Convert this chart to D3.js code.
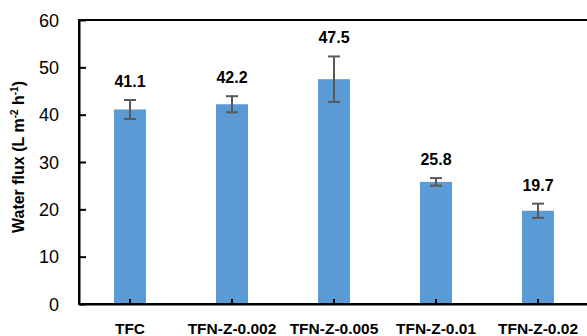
<!DOCTYPE html>
<html>
<head>
<meta charset="utf-8">
<script src="https://cdn.jsdelivr.net/npm/d3@7"></script>
</head>
<body style="margin:0;background:#fff">
<div id="chart"></div>
<script>
const categories = ["TFC", "TFN-Z-0.002", "TFN-Z-0.005", "TFN-Z-0.01", "TFN-Z-0.02"];
const fluxValues = [41.1, 42.2, 47.5, 25.8, 19.7];
const fluxErrors = [2.0, 1.7, 4.8, 0.8, 1.5];
const yTicks = [0, 10, 20, 30, 40, 50, 60];
const yTitleMain = "Water flux (L m";

const W = 587, H = 336;
const FONT = "'Liberation Sans', Arial, sans-serif";
const svg = d3.select("#chart").append("svg").attr("width", W).attr("height", H);

const x = d3.scaleBand().domain(categories).range([79, 589]).paddingInner(0.686).paddingOuter(0.343);
const y = d3.scaleLinear().domain([0, 60]).range([304, 20]);

const data = categories.map((c, i) => ({ c, v: fluxValues[i], e: fluxErrors[i] }));

// plot-area frame (left, top, bottom; right edge falls outside the canvas)
svg.append("rect")
  .attr("x", x.range()[0]).attr("y", y(60))
  .attr("width", x.range()[1] - x.range()[0] + 2).attr("height", y(0) - y(60))
  .attr("fill", "none").attr("stroke", "#000").attr("stroke-width", 2)
  .attr("shape-rendering", "crispEdges");

// bars
svg.append("g").selectAll("rect").data(data).join("rect")
  .attr("x", d => x(d.c)).attr("width", x.bandwidth())
  .attr("y", d => y(d.v)).attr("height", d => y(0) - y(d.v) - 1)
  .attr("fill", "#5B9BD5");

// error bars
const eg = svg.append("g").attr("stroke", "#595959").attr("stroke-width", 2);
data.forEach(d => {
  const cx = x(d.c) + x.bandwidth() / 2;
  eg.append("line").attr("x1", cx).attr("x2", cx).attr("y1", y(d.v + d.e)).attr("y2", y(d.v - d.e));
  eg.append("line").attr("x1", cx - 6).attr("x2", cx + 6).attr("y1", y(d.v + d.e)).attr("y2", y(d.v + d.e));
  eg.append("line").attr("x1", cx - 6).attr("x2", cx + 6).attr("y1", y(d.v - d.e)).attr("y2", y(d.v - d.e));
});

// value labels
svg.append("g").selectAll("text").data(data).join("text")
  .attr("x", d => x(d.c) + x.bandwidth() / 2)
  .attr("y", d => y(d.v + d.e) - 13)
  .attr("text-anchor", "middle")
  .attr("font-family", FONT)
  .attr("font-weight", "bold").attr("font-size", 16)
  .attr("fill", "#000")
  .text(d => d.v.toFixed(1));

// y axis (inside ticks)
const yAxis = d3.axisLeft(y).tickValues(yTicks).tickSizeInner(-7).tickSizeOuter(0).tickPadding(20);
const yg = svg.append("g").attr("transform", "translate(79,0)").call(yAxis);
yg.select(".domain").attr("stroke", "#000").attr("stroke-width", 2);
yg.selectAll(".tick line").attr("stroke", "#000").attr("stroke-width", 2);
yg.selectAll("text").attr("font-family", FONT)
  .attr("font-size", 18).attr("fill", "#000").attr("dy", "0.35em");

// x axis (inside ticks)
const xAxis = d3.axisBottom(x).tickSizeInner(-5).tickSizeOuter(0).tickPadding(0);
const xg = svg.append("g").attr("transform", "translate(0,304)").call(xAxis);
xg.select(".domain").attr("stroke", "#000").attr("stroke-width", 2);
xg.selectAll(".tick line").attr("stroke", "#000").attr("stroke-width", 2);
xg.selectAll("text").attr("font-family", FONT)
  .attr("font-weight", "bold").attr("font-size", 15.5).attr("fill", "#000")
  .attr("y", 30).attr("dy", 0);

// y title
const title = svg.append("text")
  .attr("transform", "translate(24,157) rotate(-90)")
  .attr("text-anchor", "middle")
  .attr("font-family", FONT)
  .attr("font-weight", "bold").attr("font-size", 16).attr("fill", "#000");
title.append("tspan").text(yTitleMain);
title.append("tspan").attr("font-size", 10).attr("dy", -6).text("-2");
title.append("tspan").attr("dy", 6).text(" h");
title.append("tspan").attr("font-size", 10).attr("dy", -6).text("-1");
title.append("tspan").attr("dy", 6).text(")");
</script>
</body>
</html>
